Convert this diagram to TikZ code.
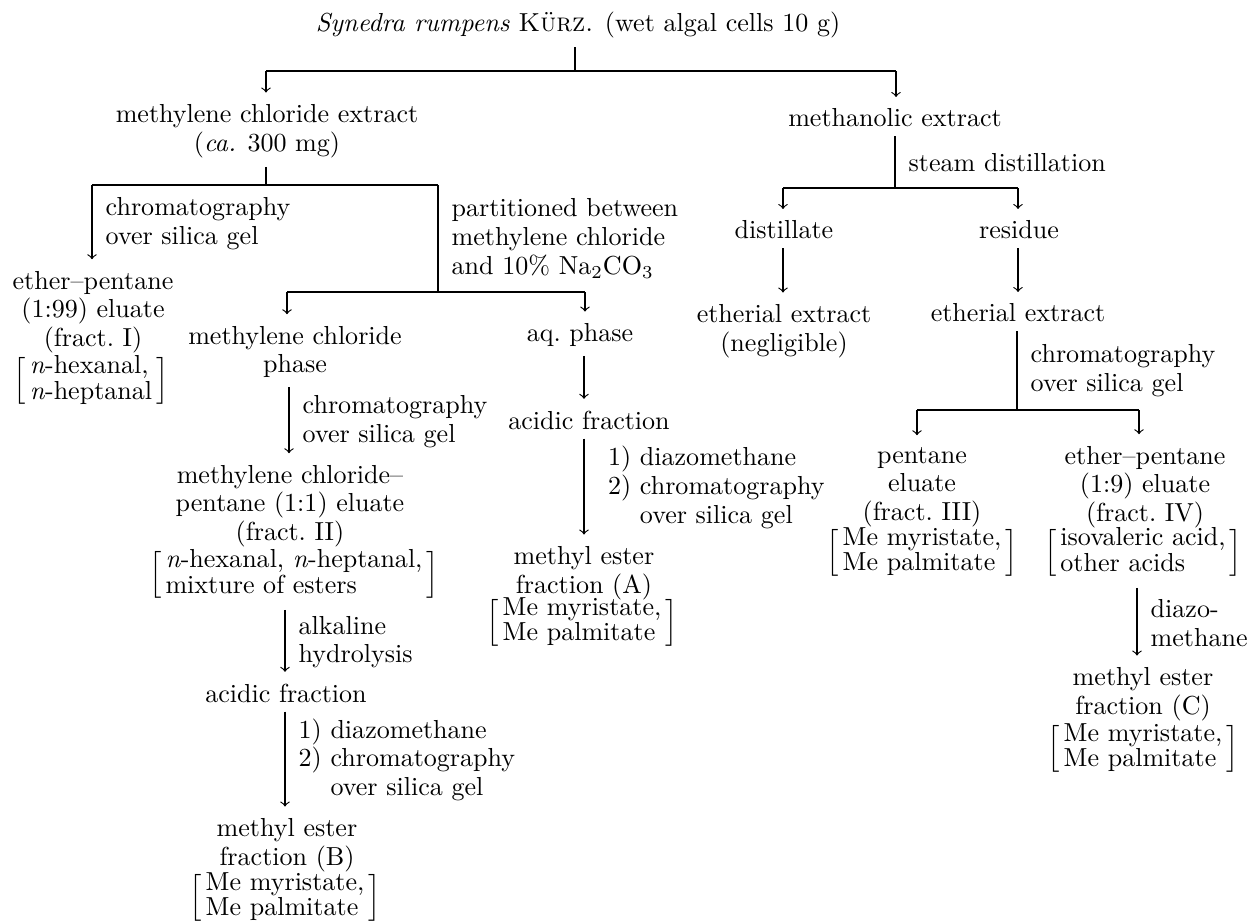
\documentclass[tikz,border=0pt]{standalone}
\usepackage{amsmath}
\usepackage{tikz}
\usetikzlibrary{arrows.meta}

\newcommand{\brk}[1]{\renewcommand{\arraystretch}{0.87}$\left[\begin{tabular}{@{\hspace{1.5pt}}l@{\hspace{1.5pt}}}#1\end{tabular}\right]$}

\begin{document}
\begin{tikzpicture}[->,>=to,shorten >=1pt,x=0.384pt,y=-0.384pt,line width=0.45pt,
    every node/.style={font=\fontsize{10}{11}\selectfont,align=center},
    cond/.style={right=1.7pt,align=left},
    trunk/.style={-,shorten >=0pt}]
    \useasboundingbox (0,0) rectangle (1249,923);

    \node (title) at (578,25) {\textit{Synedra rumpens} \textsc{Kürz.} (wet algal cells 10 g)};
    \coordinate (t0) at (575,71);
    \coordinate (t1) at (266,71);
    \coordinate (t2) at (896,71);
    \node (mcx) at (267,131) {methylene chloride extract\\(\textit{ca.} 300 mg)};
    \node (mox) at (895,118) {methanolic extract};

    \draw[trunk] (title.south -| t0) -- (t0);
    \draw[trunk] (t1) -- (t2);
    \draw (t1) -- (mcx.north -| t1);
    \draw (t2) -- (mox.north -| t2);

    % methylene chloride extract
    \coordinate (a0) at (266,185);
    \coordinate (a1) at (92,185);
    \coordinate (a2) at (438,185);
    \coordinate (a3) at (438,292);
    \coordinate (a4) at (287,292);
    \coordinate (a5) at (585,292);
    \node (frI) at (93,312) {ether--pentane\\(1:99) eluate\\(fract.~I)};
    \node (brI) at (91,381) {\brk{\textit{n}-hexanal,\\\textit{n}-heptanal}};

    \draw[trunk] (mcx.south -| a0) -- (a0);
    \draw[trunk] (a1) -- (a2);
    \path (a1) edge node[cond] {chromatography\\over silica gel} (frI.north -| a1);
    \path (a2) edge[trunk] node[cond] {partitioned between\\methylene chloride\\and 10\% Na$_2$CO$_3$} (a3);
    \draw[trunk] (a4) -- (a5);

    \node (mcp) at (295,352) {methylene chloride\\phase};
    \node (aqp) at (580,335) {aq.~phase};
    \draw (a4) -- (mcp.north -| a4);
    \draw (a5) -- (aqp.north -| a5);

    \coordinate (xm) at (289,0);
    \coordinate (xb) at (285,0);
    \node (frII) at (290,506) {methylene chloride--\\pentane (1:1) eluate\\(fract.~II)};
    \node (brII) at (294,575) {\brk{\textit{n}-hexanal, \textit{n}-heptanal,\\mixture of esters}};
    \node (acB) at (286,693) {acidic fraction};
    \node (meB) at (287,845) {methyl ester\\fraction (B)};
    \node (brB) at (285,898) {\brk{Me myristate,\\Me palmitate}};

    \path (mcp.south -| xm) edge node[cond] {chromatography\\over silica gel} (frII.north -| xm)
          (brII.south -| xb) edge node[cond] {alkaline\\hydrolysis} (acB.north -| xb)
          (acB.south -| xb) edge node[cond] {1) diazomethane\\2) chromatography\\\phantom{2) }over silica gel} (meB.north -| xb);

    % aqueous phase
    \coordinate (xa) at (584,0);
    \node (acA) at (589,420) {acidic fraction};
    \node (meA) at (584,573) {methyl ester\\fraction (A)};
    \node (brA) at (582,623) {\brk{Me myristate,\\Me palmitate}};
    \draw (aqp.south -| xa) -- (acA.north -| xa);
    \path (acA.south -| xa) edge node[cond,xshift=4pt] {1) diazomethane\\2) chromatography\\\phantom{2) }over silica gel} (meA.north -| xa);

    % methanolic extract
    \coordinate (b0) at (895,188);
    \coordinate (b1) at (783,188);
    \coordinate (b2) at (1018,188);
    \node (dist) at (784,230) {distillate};
    \node (resi) at (1019,230) {residue};
    \node (eth1) at (784,331) {etherial extract\\(negligible)};
    \node (eth2) at (1018,313) {etherial extract};

    \path (mox.south -| b0) edge[trunk] node[cond] {steam distillation} (b0);
    \draw[trunk] (b1) -- (b2);
    \draw (b1) -- (dist.north -| b1);
    \draw (b2) -- (resi.north -| b2);
    \draw (dist.south -| b1) -- (eth1.north -| b1);
    \draw (resi.south -| b2) -- (eth2.north -| b2);

    \coordinate (c0) at (1017,410);
    \coordinate (c1) at (917,410);
    \coordinate (c2) at (1139,410);
    \coordinate (xc) at (1137,0);
    \node (frIII) at (922,487) {pentane\\eluate\\(fract.~III)};
    \node (frIV) at (1145,487) {ether--pentane\\(1:9) eluate\\(fract.~IV)};
    \node (brIII) at (922,553) {\brk{Me myristate,\\Me palmitate}};
    \node (brIV) at (1143,553) {\brk{isovaleric acid,\\other acids}};
    \node (meC) at (1143,694) {methyl ester\\fraction (C)};
    \node (brC) at (1143,749) {\brk{Me myristate,\\Me palmitate}};

    \path (eth2.south -| c0) edge[trunk] node[cond] {chromatography\\over silica gel} (c0);
    \draw[trunk] (c1) -- (c2);
    \draw (c1) -- (frIII.north -| c1);
    \draw (c2) -- (frIV.north -| c2);
    \path (brIV.south -| xc) edge node[cond] {diazo-\\methane} (meC.north -| xc);
\end{tikzpicture}
\end{document}
